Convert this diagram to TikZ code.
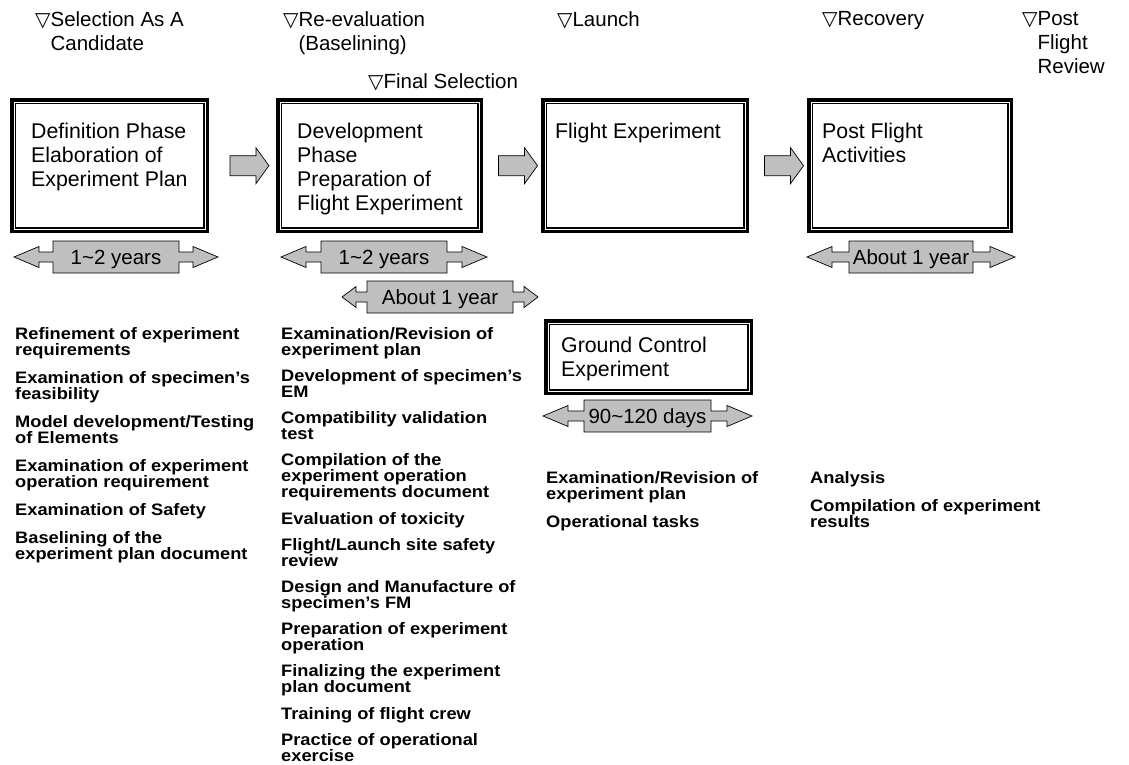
\documentclass[tikz,border=0pt]{standalone}
\usepackage{fontspec}
\setmainfont{Liberation Sans}
\newfontfamily\symfont{DejaVu Sans}
\newfontfamily\listfont[FakeStretch=1.1]{Liberation Sans Bold}
\usetikzlibrary{calc}
\newcommand\dtri{{\symfont\fontsize{20}{20}\selectfont ▽}}

\tikzset{
  big/.style={font=\fontsize{20.5}{24}\selectfont, inner sep=0pt, align=left},
  milestone/.style={big, anchor=north west},
  phase/.style={draw, line width=2.4pt, inner sep=0pt, anchor=north west},
  phasetext/.style={big, font=\fontsize{21.3}{24}\selectfont, anchor=north west},
  tasks/.style={font=\listfont\fontsize{16.6}{16}\selectfont, inner sep=0pt, align=left, anchor=north west},
  flow/.style={draw=black, line width=0.7pt, fill=gray!50, line join=miter},
  % block arrow between two phases
  pics/stage arrow/.style={code={
    \draw[flow] (-19.5,-10) -- (6.5,-10) -- (6.5,-18) -- (19.5,0) -- (6.5,18) -- (6.5,10) -- (-19.5,10) -- cycle;
  }},
  % duration bar: #1 half length, #2 half width of the label box, #3 head length, #4 label
  pics/span/.style n args={4}{code={
    \draw[flow] (-#1,0) -- (-#1+#3,-10.5) -- (-#1+#3,-5) -- (-#2,-5) -- (-#2,-16) -- (#2,-16) -- (#2,-5)
      -- (#1-#3,-5) -- (#1-#3,-10.5) -- (#1,0) -- (#1-#3,10.5) -- (#1-#3,5) -- (#2,5) -- (#2,16)
      -- (-#2,16) -- (-#2,5) -- (-#1+#3,5) -- (-#1+#3,10.5) -- cycle;
    \node[big, align=center, anchor=center, text height=14.6pt, text depth=0pt] (-label) at (0,0) {#4};
  }}
}

\begin{document}
\begin{tikzpicture}[x=1pt,y=-1pt]
\useasboundingbox (0,0) rectangle (1129,765);

% milestones
\node[milestone] (m1) at (35,11) {\dtri Selection As A\\\hphantom{\dtri}Candidate};
\node[milestone] (m2) at (283,11) {\dtri Re-evaluation\\\hphantom{\dtri}(Baselining)};
\node[milestone] (m3) at (368,73) {\dtri Final Selection};
\node[milestone] (m4) at (557,11) {\dtri Launch};
\node[milestone] (m5) at (822,11) {\dtri Recovery};
\node[milestone] (m6) at (1022,11) {\dtri Post\\\hphantom{\dtri}Flight\\\hphantom{\dtri}Review};

% phases
\node[phase, minimum width=196.6pt, minimum height=132.6pt] (b1) at (10.2,98.2) {};
\node[phase, minimum width=204.6pt, minimum height=132.6pt] (b2) at (276.2,98.2) {};
\node[phase, minimum width=205.6pt, minimum height=132.6pt] (b3) at (541.2,98.2) {};
\node[phase, minimum width=203.6pt, minimum height=132.6pt] (b4) at (807.2,98.2) {};
\node[phase, minimum width=206.6pt, minimum height=73.6pt] (gc) at (544.2,319.2) {};
\foreach \n in {b1,b2,b3,b4,gc}{
  \draw[line width=0.9pt] ([xshift=3pt,yshift=-3pt]\n.north west) rectangle ([xshift=-3pt,yshift=3pt]\n.south east);
  \draw[line width=1.5pt] ([xshift=5.3pt,yshift=-5.3pt]\n.north west) rectangle ([xshift=-5.3pt,yshift=5.3pt]\n.south east);
}

\node[phasetext] (b1t) at ([xshift=20.8pt,yshift=-24.6pt]b1.north west) {Definition Phase\\Elaboration of\\Experiment Plan};
\node[phasetext] (b2t) at ([xshift=20.8pt,yshift=-24.6pt]b2.north west) {Development\\Phase\\Preparation of\\Flight Experiment};
\node[phasetext] (b3t) at ([xshift=13.8pt,yshift=-24.6pt]b3.north west) {Flight Experiment};
\node[phasetext] (b4t) at ([xshift=14.8pt,yshift=-24.6pt]b4.north west) {Post Flight\\Activities};
\node[phasetext] (gct) at ([xshift=16.8pt,yshift=-17.6pt]gc.north west) {Ground Control\\Experiment};

% flow between phases
\pic at ($(b1.east)!0.6!(b2.west)$) {stage arrow};
\pic at ($(b2.east)!0.6!(b3.west)$) {stage arrow};
\pic at ($(b3.east)!0.6!(b4.west)$) {stage arrow};

% durations
\pic (d1) at (116,257) {span={102}{63}{25}{1\char`~2 years}};
\pic (d2) at (384,257) {span={103}{63}{25}{1\char`~2 years}};
\pic (d3) at (440,297) {span={98}{73}{14}{About 1 year}};
\pic (d4) at (911,257) {span={104}{62}{25}{About 1 year}};
\pic (d5) at (647.5,416) {span={104.5}{63.5}{25}{90\char`~120 days}};

% tasks
\node[tasks] (l1) at (15,327) {Refinement of experiment\\requirements\\[12pt]Examination of specimen’s\\feasibility\\[12pt]Model development/Testing\\of Elements\\[12pt]Examination of experiment\\operation requirement\\[12pt]Examination of Safety\\[12pt]Baselining of the\\experiment plan document};
\node[tasks] (l2) at (281,327) {Examination/Revision of\\experiment plan\\[10.2pt]Development of specimen’s\\EM\\[10.2pt]Compatibility validation\\test\\[10.2pt]Compilation of the\\experiment operation\\requirements document\\[10.2pt]Evaluation of toxicity\\[10.2pt]Flight/Launch site safety\\review\\[10.2pt]Design and Manufacture of\\specimen’s FM\\[10.2pt]Preparation of experiment\\operation\\[10.2pt]Finalizing the experiment\\plan document\\[10.2pt]Training of flight crew\\[10.2pt]Practice of operational\\exercise};
\node[tasks] (l3) at (546,471) {Examination/Revision of\\experiment plan\\[12pt]Operational tasks};
\node[tasks] (l4) at (810,471) {Analysis\\[12pt]Compilation of experiment\\results};
\end{tikzpicture}
\end{document}
